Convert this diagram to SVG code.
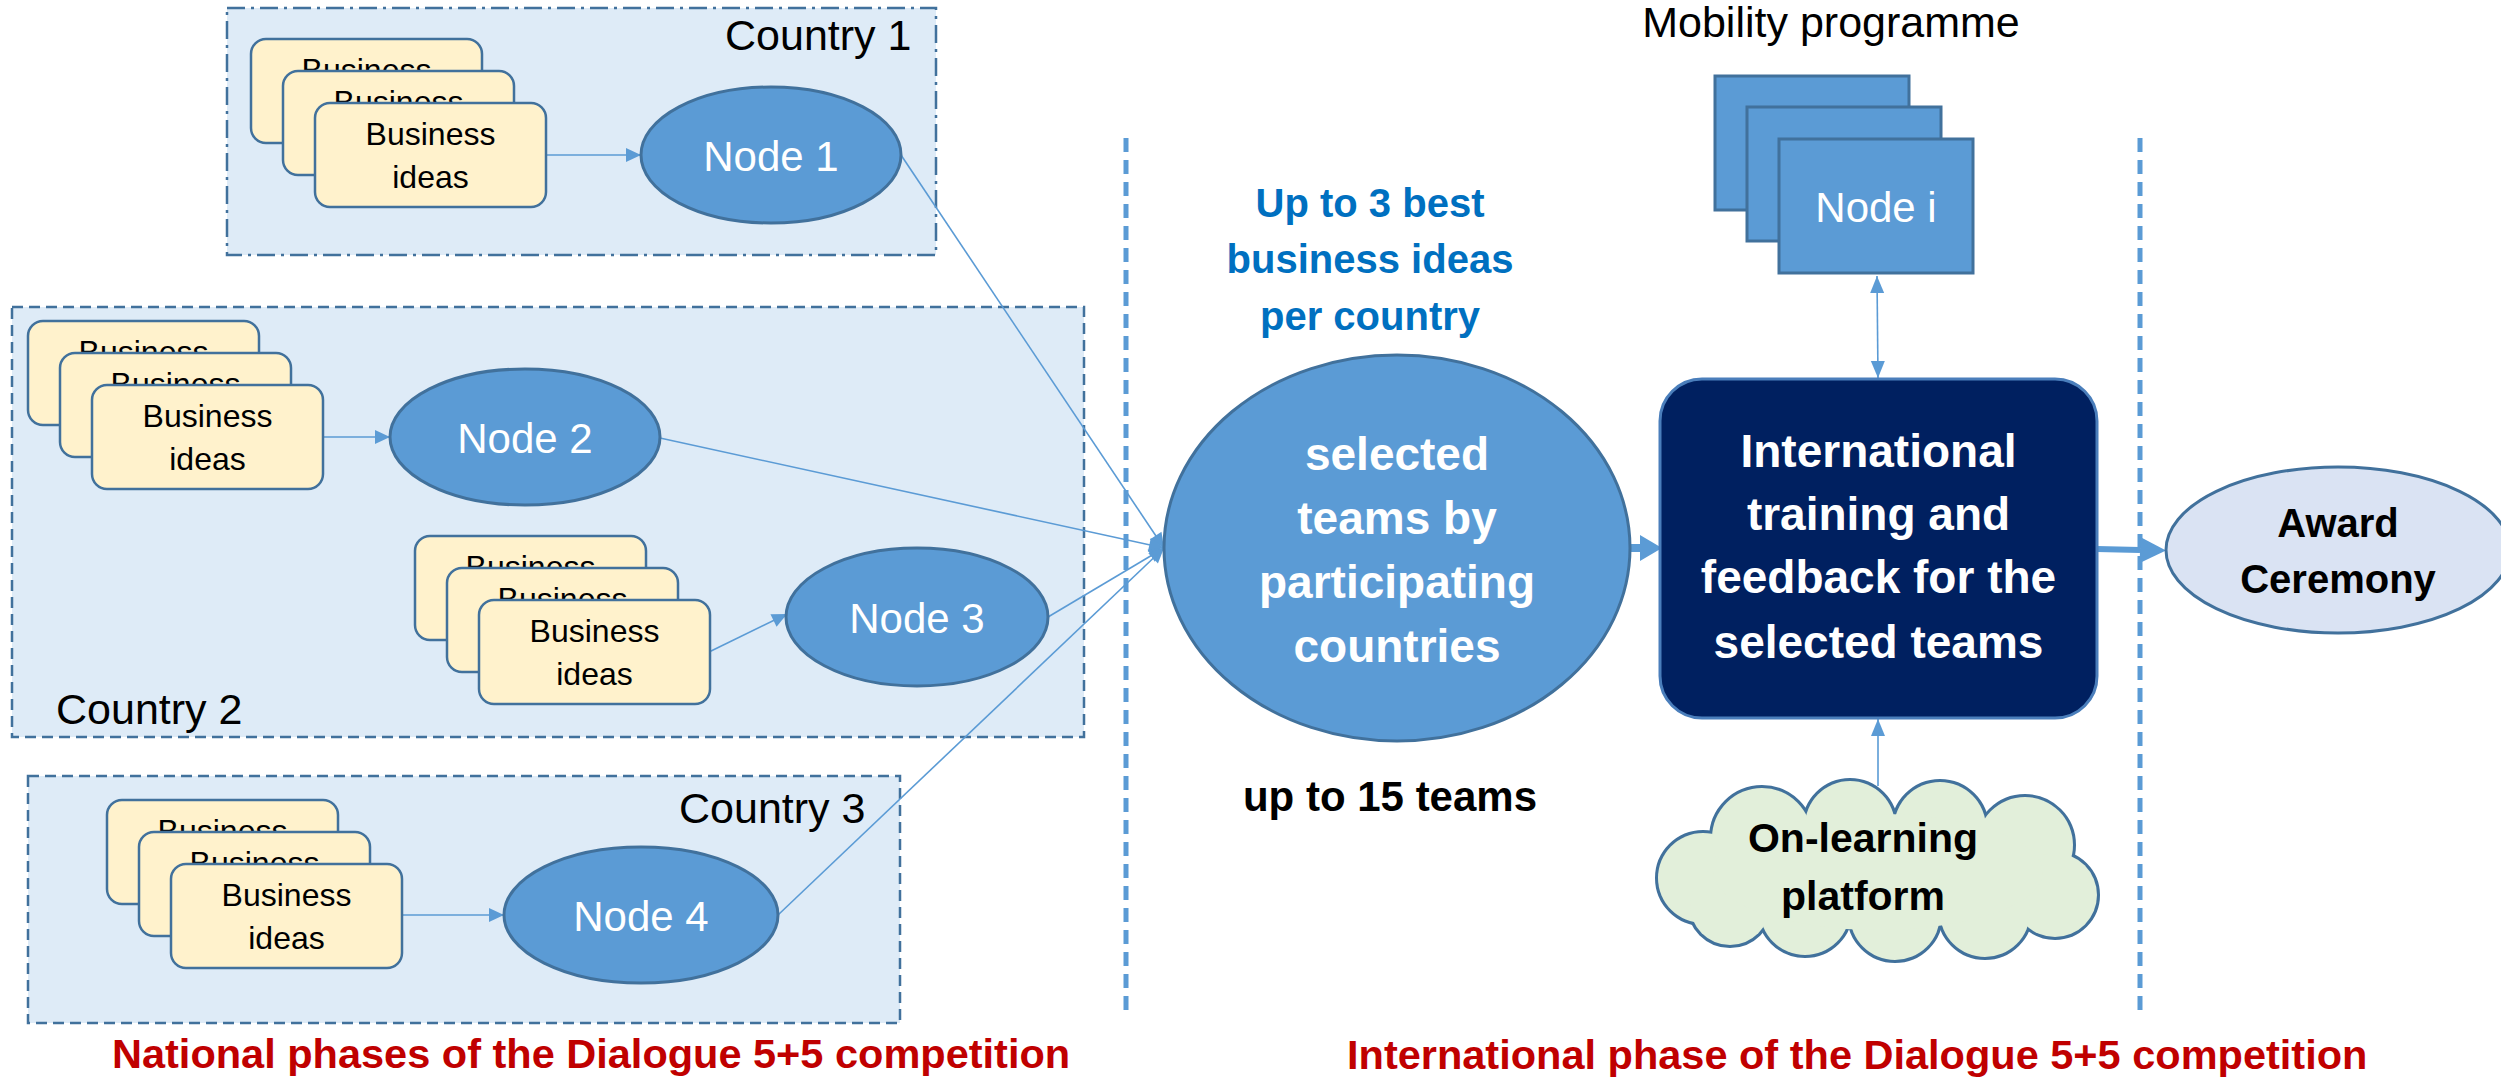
<svg xmlns="http://www.w3.org/2000/svg" width="2501" height="1077" viewBox="0 0 2501 1077">
<style>
text{font-family:"Liberation Sans",Arial,sans-serif}
.country{fill:#DEEBF7;stroke:#41719C;stroke-width:2.5}
.dash{stroke-dasharray:11 6}
.dashdot{stroke-dasharray:18 6 3 6}
.card{fill:#FFF2CC;stroke:#41719C;stroke-width:2.5}
.cardt{font-size:32px;fill:#000;text-anchor:middle}
.node{fill:#5B9BD5;stroke:#41719C;stroke-width:3}
.nodet{font-size:42px;fill:#fff;text-anchor:middle}
.clabel{font-size:43px;fill:#000}
.conn{stroke:#5B9BD5;stroke-width:1.6;fill:none}
.divider{stroke:#5B9BD5;stroke-width:5;stroke-dasharray:14 8}
.bold{font-weight:bold;text-anchor:middle}
.red{font-size:41.5px;font-weight:bold;fill:#C00000}
.cs{fill:none;stroke:#41719C;stroke-width:6}
.cf{fill:#E2EFDA;stroke:none}
</style>
<defs>
<marker id="ah" markerUnits="userSpaceOnUse" markerWidth="16" markerHeight="14" refX="15" refY="7" orient="auto" overflow="visible"><path d="M0,0 L15,7 L0,14 z" fill="#5B9BD5"/></marker>
<marker id="ah2" markerUnits="userSpaceOnUse" markerWidth="18" markerHeight="14" refX="17" refY="7" orient="auto-start-reverse" overflow="visible"><path d="M0,0 L17,7 L0,14 z" fill="#5B9BD5"/></marker>
<marker id="blk1" markerUnits="userSpaceOnUse" markerWidth="22" markerHeight="26" refX="0" refY="13" orient="auto" overflow="visible"><path d="M0,0 L22,13 L0,26 z" fill="#5B9BD5"/></marker>
<marker id="blk2" markerUnits="userSpaceOnUse" markerWidth="26" markerHeight="26" refX="0" refY="13" orient="auto" overflow="visible"><path d="M0,0 L26,13 L0,26 z" fill="#5B9BD5"/></marker>
<clipPath id="k1a" clipPathUnits="userSpaceOnUse"><rect x="251" y="39" width="231" height="32"/></clipPath>
<clipPath id="k1b" clipPathUnits="userSpaceOnUse"><rect x="283" y="71" width="231" height="32"/></clipPath>
<clipPath id="k2a" clipPathUnits="userSpaceOnUse"><rect x="28" y="321" width="231" height="32"/></clipPath>
<clipPath id="k2b" clipPathUnits="userSpaceOnUse"><rect x="60" y="353" width="231" height="32"/></clipPath>
<clipPath id="k3a" clipPathUnits="userSpaceOnUse"><rect x="415" y="536" width="231" height="32"/></clipPath>
<clipPath id="k3b" clipPathUnits="userSpaceOnUse"><rect x="447" y="568" width="231" height="32"/></clipPath>
<clipPath id="k4a" clipPathUnits="userSpaceOnUse"><rect x="107" y="800" width="231" height="32"/></clipPath>
<clipPath id="k4b" clipPathUnits="userSpaceOnUse"><rect x="139" y="832" width="231" height="32"/></clipPath>
</defs>

<g id="country1">
<rect class="country dashdot" x="227" y="8" width="709" height="247"/>
<text class="clabel" x="725" y="50">Country 1</text>
</g>
<g id="country2">
<rect class="country dash" x="12" y="307" width="1072" height="430"/>
<text class="clabel" x="56" y="724">Country 2</text>
</g>
<g id="country3">
<rect class="country dash" x="28" y="776" width="872" height="247"/>
<text class="clabel" x="679" y="823">Country 3</text>
</g>

<g id="dividers">
<line class="divider" x1="1126" y1="138" x2="1126" y2="1014"/>
<line class="divider" x1="2140" y1="138" x2="2140" y2="1014"/>
</g>

<g id="connectors">
<line class="conn" x1="546" y1="155" x2="641" y2="155" marker-end="url(#ah)"/>
<line class="conn" x1="322" y1="437" x2="390" y2="437" marker-end="url(#ah)"/>
<line class="conn" x1="709" y1="652" x2="787" y2="614" marker-end="url(#ah)"/>
<line class="conn" x1="402" y1="915" x2="504" y2="915" marker-end="url(#ah)"/>
<line class="conn" x1="901" y1="155" x2="1164" y2="548" marker-end="url(#ah)"/>
<line class="conn" x1="660" y1="438" x2="1164" y2="548" marker-end="url(#ah)"/>
<line class="conn" x1="1048" y1="617" x2="1164" y2="548" marker-end="url(#ah)"/>
<line class="conn" x1="778" y1="915" x2="1164" y2="548" marker-end="url(#ah)"/>
<line class="conn" x1="1877" y1="276" x2="1878" y2="378" marker-start="url(#ah2)" marker-end="url(#ah2)"/>
<line class="conn" x1="1878" y1="786" x2="1878" y2="719" marker-end="url(#ah2)"/>
<line x1="1630" y1="548" x2="1640" y2="548" stroke="#5B9BD5" stroke-width="8" marker-end="url(#blk1)"/>
<line x1="2097" y1="549" x2="2140" y2="550" stroke="#5B9BD5" stroke-width="6" marker-end="url(#blk2)"/>
</g>

<g id="ideas1">
<rect class="card" x="251" y="39" width="231" height="104" rx="15"/><text class="cardt" x="366.5" y="81" clip-path="url(#k1a)">Business</text>
<rect class="card" x="283" y="71" width="231" height="104" rx="15"/><text class="cardt" x="398.5" y="113" clip-path="url(#k1b)">Business</text>
<rect class="card" x="315" y="103" width="231" height="104" rx="15"/><text class="cardt" x="430.5" y="145">Business</text><text class="cardt" x="430.5" y="188">ideas</text>
</g>
<g id="ideas2">
<rect class="card" x="28" y="321" width="231" height="104" rx="15"/><text class="cardt" x="143.5" y="363" clip-path="url(#k2a)">Business</text>
<rect class="card" x="60" y="353" width="231" height="104" rx="15"/><text class="cardt" x="175.5" y="395" clip-path="url(#k2b)">Business</text>
<rect class="card" x="92" y="385" width="231" height="104" rx="15"/><text class="cardt" x="207.5" y="427">Business</text><text class="cardt" x="207.5" y="470">ideas</text>
</g>
<g id="ideas3">
<rect class="card" x="415" y="536" width="231" height="104" rx="15"/><text class="cardt" x="530.5" y="578" clip-path="url(#k3a)">Business</text>
<rect class="card" x="447" y="568" width="231" height="104" rx="15"/><text class="cardt" x="562.5" y="610" clip-path="url(#k3b)">Business</text>
<rect class="card" x="479" y="600" width="231" height="104" rx="15"/><text class="cardt" x="594.5" y="642">Business</text><text class="cardt" x="594.5" y="685">ideas</text>
</g>
<g id="ideas4">
<rect class="card" x="107" y="800" width="231" height="104" rx="15"/><text class="cardt" x="222.5" y="842" clip-path="url(#k4a)">Business</text>
<rect class="card" x="139" y="832" width="231" height="104" rx="15"/><text class="cardt" x="254.5" y="874" clip-path="url(#k4b)">Business</text>
<rect class="card" x="171" y="864" width="231" height="104" rx="15"/><text class="cardt" x="286.5" y="906">Business</text><text class="cardt" x="286.5" y="949">ideas</text>
</g>

<g id="node1"><ellipse class="node" cx="771" cy="155" rx="130" ry="68"/><text class="nodet" x="771" y="171">Node 1</text></g>
<g id="node2"><ellipse class="node" cx="525" cy="437" rx="135" ry="68"/><text class="nodet" x="525" y="453">Node 2</text></g>
<g id="node3"><ellipse class="node" cx="917" cy="617" rx="131" ry="69"/><text class="nodet" x="917" y="633">Node 3</text></g>
<g id="node4"><ellipse class="node" cx="641" cy="915" rx="137" ry="68"/><text class="nodet" x="641" y="931">Node 4</text></g>

<g id="selected">
<ellipse class="node" cx="1397" cy="548" rx="233" ry="193"/>
<text class="bold" font-size="46" fill="#fff" x="1397" y="470">selected</text>
<text class="bold" font-size="46" fill="#fff" x="1397" y="534">teams by</text>
<text class="bold" font-size="46" fill="#fff" x="1397" y="598">participating</text>
<text class="bold" font-size="46" fill="#fff" x="1397" y="662">countries</text>
</g>
<g id="best-ideas-label">
<text class="bold" font-size="40" fill="#0070C0" x="1370" y="217">Up to 3 best</text>
<text class="bold" font-size="40" fill="#0070C0" x="1370" y="273">business ideas</text>
<text class="bold" font-size="40" fill="#0070C0" x="1370" y="330">per country</text>
</g>
<g id="teams-label">
<text class="bold" font-size="42" fill="#000" x="1390" y="811">up to 15 teams</text>
</g>

<g id="mobility">
<text font-size="43" fill="#000" text-anchor="middle" x="1831" y="37">Mobility programme</text>
<rect class="node" x="1715" y="76" width="194" height="134"/>
<rect class="node" x="1747" y="107" width="194" height="134"/>
<rect class="node" x="1779" y="139" width="194" height="134"/>
<text class="nodet" x="1876" y="222">Node i</text>
</g>

<g id="training">
<rect x="1660" y="379" width="437" height="339" rx="42" fill="#002060" stroke="#4A7EBB" stroke-width="3"/>
<text class="bold" font-size="46" fill="#fff" x="1878.5" y="467">International</text>
<text class="bold" font-size="46" fill="#fff" x="1878.5" y="530">training and</text>
<text class="bold" font-size="46" fill="#fff" x="1878.5" y="593">feedback for the</text>
<text class="bold" font-size="46" fill="#fff" x="1878.5" y="658">selected teams</text>
</g>

<g id="platform">
<circle class="cs" cx="1703" cy="878" r="45"/><circle class="cs" cx="1762" cy="838" r="50"/><circle class="cs" cx="1850" cy="826" r="45"/><circle class="cs" cx="1940" cy="828" r="46"/><circle class="cs" cx="2025" cy="845" r="48"/><circle class="cs" cx="2055" cy="895" r="42"/><circle class="cs" cx="1985" cy="912" r="45"/><circle class="cs" cx="1895" cy="915" r="45"/><circle class="cs" cx="1805" cy="910" r="45"/><circle class="cs" cx="1730" cy="905" r="40"/>
<circle class="cf" cx="1703" cy="878" r="45"/><circle class="cf" cx="1762" cy="838" r="50"/><circle class="cf" cx="1850" cy="826" r="45"/><circle class="cf" cx="1940" cy="828" r="46"/><circle class="cf" cx="2025" cy="845" r="48"/><circle class="cf" cx="2055" cy="895" r="42"/><circle class="cf" cx="1985" cy="912" r="45"/><circle class="cf" cx="1895" cy="915" r="45"/><circle class="cf" cx="1805" cy="910" r="45"/><circle class="cf" cx="1730" cy="905" r="40"/>
<ellipse class="cf" cx="1878" cy="872" rx="165" ry="58"/>
<text class="bold" font-size="41" fill="#000" x="1863" y="852">On-learning</text>
<text class="bold" font-size="41" fill="#000" x="1863" y="910">platform</text>
</g>

<g id="award">
<ellipse cx="2338" cy="550" rx="172" ry="83" fill="#DAE3F3" stroke="#41719C" stroke-width="3"/>
<text class="bold" font-size="40" fill="#000" x="2338" y="537">Award</text>
<text class="bold" font-size="40" fill="#000" x="2338" y="593">Ceremony</text>
</g>

<g id="phase-labels">
<text class="red" x="112" y="1068">National phases of the Dialogue 5+5 competition</text>
<text class="red" x="1347" y="1069">International phase of the Dialogue 5+5 competition</text>
</g>
</svg>
